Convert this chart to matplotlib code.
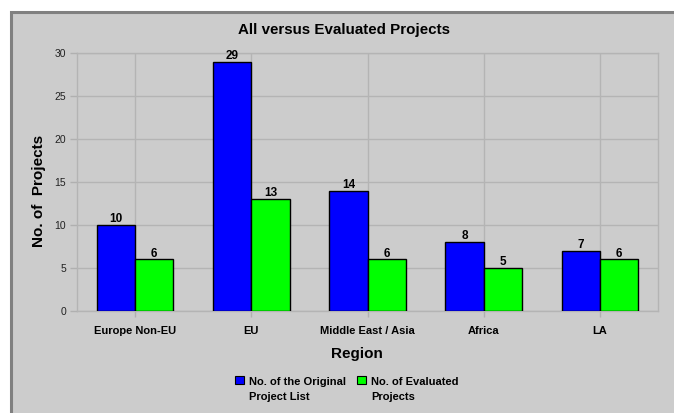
import numpy as np
import matplotlib
matplotlib.use('Agg')
import matplotlib.pyplot as plt
from matplotlib.patches import Rectangle

plt.rcParams['font.family'] = ['Liberation Sans', 'DejaVu Sans']

regions = ['Europe Non-EU', 'EU', 'Middle East / Asia', 'Africa', 'LA']
original = [10, 29, 14, 8, 7]
evaluated = [6, 13, 6, 5, 6]
labels = ['No. of the Original\nProject List', 'No. of Evaluated\nProjects']
colors = ['#0000ff', '#00ff00']

W, H = 674, 413
fig = plt.figure(figsize=(W / 100, H / 100), dpi=100, facecolor='white')

# grey chart background with darker frame on the left/top
fig.patches.append(Rectangle((10.5 / W, -0.05), 1.2, (H - 12) / H + 0.05,
                             transform=fig.transFigure, facecolor='#cccccc',
                             edgecolor='#808080', linewidth=2.2, zorder=-10))

ax = fig.add_axes([77 / W, (H - 311) / H, (658 - 77) / W, (311 - 53) / H])
ax.set_facecolor('#cccccc')

x = np.arange(len(regions))
w = 0.33
b1 = ax.bar(x - w / 2, original, w, color=colors[0], edgecolor='black', linewidth=1, zorder=3)
b2 = ax.bar(x + w / 2, evaluated, w, color=colors[1], edgecolor='black', linewidth=1, zorder=3)

for bars, vals in ((b1, original), (b2, evaluated)):
    for r, v in zip(bars, vals):
        ax.annotate(str(v), (r.get_x() + r.get_width() / 2, v), xytext=(0, 2),
                    textcoords='offset points', ha='center', va='baseline',
                    fontsize=8.5, fontweight='bold', color='black')

ax.set_xlim(-0.5, len(regions) - 0.5)
ax.set_ylim(0, 30)
ax.set_yticks(range(0, 31, 5))
ax.set_xticks(x)
ax.set_xticklabels(regions, fontsize=8, fontweight='bold')
ax.tick_params(axis='y', labelsize=7.5, colors='#b0b0b0', labelcolor='#222222', length=5, width=1, pad=3)
ax.tick_params(axis='x', colors='#b0b0b0', labelcolor='black', length=4, width=1, pad=7)
ax.grid(True, color='#b4b4b4', linewidth=1, zorder=0)
ax.set_axisbelow(True)
for s in ax.spines.values():
    s.set_color('#b4b4b4')
    s.set_linewidth(1)

fig.text(344 / W, (H - 30) / H, 'All versus Evaluated Projects', ha='center', va='center',
         fontsize=10.9, fontweight='bold')
fig.text(39 / W, (H - 191) / H, 'No. of  Projects', ha='center', va='center', rotation=90,
         fontsize=11, fontweight='bold')
fig.text(357 / W, (H - 354) / H, 'Region', ha='center', va='center',
         fontsize=11, fontweight='bold')

# legend entries
for (sx, tx), lab, c in zip(((235, 249), (357, 371)), labels, colors):
    fig.patches.append(Rectangle((sx / W, (H - 384) / H), 9 / W, 8 / H, transform=fig.transFigure,
                                 facecolor=c, edgecolor='black', linewidth=0.8, zorder=2))
    fig.text(tx / W, (H - 377) / H, lab, ha='left', va='top', fontsize=8,
             fontweight='bold', linespacing=1.65)

fig.savefig('out.png', dpi=100, facecolor='white')
